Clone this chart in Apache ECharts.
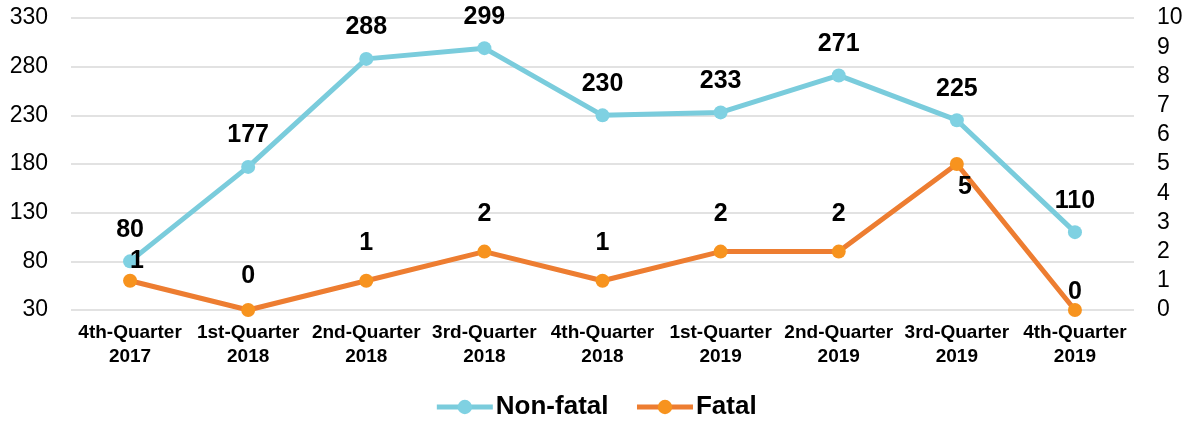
<!DOCTYPE html>
<html><head><meta charset="utf-8">
<script src="https://cdn.jsdelivr.net/npm/echarts@6/dist/echarts.min.js"></script>
<style>html,body{margin:0;padding:0;background:#fff}#c{width:1191px;height:421px}</style>
</head><body><div id="c"></div>
<script>
const categories = ['4th-Quarter\n2017','1st-Quarter\n2018','2nd-Quarter\n2018','3rd-Quarter\n2018','4th-Quarter\n2018','1st-Quarter\n2019','2nd-Quarter\n2019','3rd-Quarter\n2019','4th-Quarter\n2019'];
const nonFatal = [80,177,288,299,230,233,271,225,110];
const fatal = [1,0,1,2,1,2,2,5,0];

const font = '"Liberation Sans", Arial, sans-serif';
const chart = echarts.init(document.getElementById('c'));

const fatalData = fatal.map((v,i)=>{
  const d = {value:v};
  if (i===0) d.label = {position:'top', offset:[7,18]};
  if (i===1) d.label = {position:'top', offset:[0,4]};
  if (i===7) d.label = {position:'bottom', offset:[8,-14]};
  if (i===8) d.label = {position:'top', offset:[0,20]};
  return d;
});

chart.setOption({
  animation:false,
  grid:{left:71,right:57,top:18,bottom:111},
  legend:{
    top:389, left:'center', itemWidth:56, itemHeight:18, itemGap:26,
    lineStyle:{width:5},
    textStyle:{fontFamily:font,fontSize:26,fontWeight:'bold',color:'#000',padding:[0,0,0,-2]},
    data:['Non-fatal','Fatal']
  },
  xAxis:{
    type:'category', data:categories, boundaryGap:true,
    axisLine:{show:false}, axisTick:{show:false},
    axisLabel:{fontFamily:font,fontSize:19,fontWeight:'bold',color:'#000',lineHeight:24,margin:11,interval:0}
  },
  yAxis:[
    {type:'value',min:30,max:330,interval:50,
     axisLabel:{fontFamily:font,fontSize:23,color:'#000',margin:23},
     splitLine:{lineStyle:{color:'#d9d9d9',width:1.5}}},
    {type:'value',min:0,max:10,interval:1,
     axisLabel:{fontFamily:font,fontSize:23,color:'#000',margin:23},
     splitLine:{show:false}}
  ],
  series:[
    {name:'Non-fatal',type:'line',yAxisIndex:0,data:nonFatal,
     symbol:'circle',symbolSize:14,
     lineStyle:{color:'#7ACCDC',width:5},
     itemStyle:{color:'#7FD1E2'},
     label:{show:true,position:'top',distance:12,fontFamily:font,fontSize:25,fontWeight:'bold',color:'#000'}},
    {name:'Fatal',type:'line',yAxisIndex:1,data:fatalData,
     symbol:'circle',symbolSize:14,
     lineStyle:{color:'#ED7D31',width:5},
     itemStyle:{color:'#F7931E'},
     label:{show:true,position:'top',distance:18,fontFamily:font,fontSize:25,fontWeight:'bold',color:'#000'}}
  ]
});
</script></body></html>
